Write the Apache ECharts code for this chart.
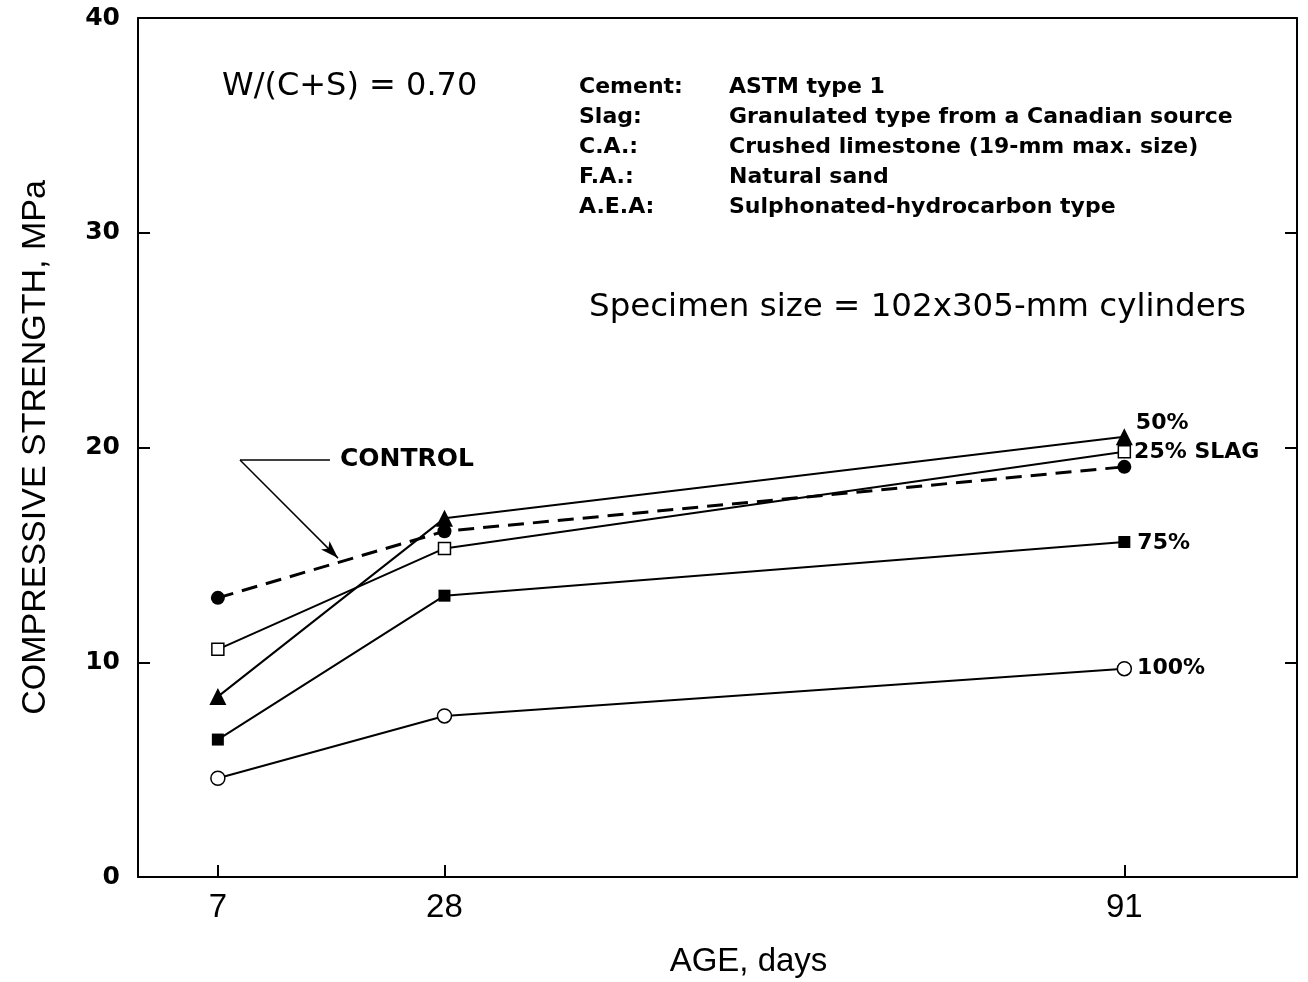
<!DOCTYPE html>
<html>
<head>
<meta charset="utf-8">
<title>Compressive strength vs age</title>
<script src="https://cdn.jsdelivr.net/npm/echarts@6.0.0/dist/echarts.min.js"></script>
<style>
  html, body { margin: 0; padding: 0; background: #fff; }
  #chart { width: 1308px; height: 982px; }
</style>
</head>
<body>
<div id="chart"></div>
<script>
// ages (days) and strengths (MPa)
var ages = [7, 28, 91]
var control = [13.0, 16.1, 19.1]
var slag25 = [10.6, 15.3, 19.8]
var slag50 = [8.4, 16.7, 20.5]
var slag75 = [6.4, 13.1, 15.6]
var slag100 = [4.6, 7.5, 9.7]
var endLabels = ['', '25% SLAG', '50%', '75%', '100%']
var yTicks = [0, 10, 20, 30, 40]

var infoKeys = ['Cement:', 'Slag:', 'C.A.:', 'F.A.:', 'A.E.A:']
var infoVals = ['ASTM type 1', 'Granulated type from a Canadian source',
  'Crushed limestone (19-mm max. size)', 'Natural sand', 'Sulphonated-hydrocarbon type']

function pairs(vals) {
  var out = []
  for (var i = 0; i < ages.length; i++) out.push([ages[i], vals[i]])
  return out
}

function withEndLabel(vals, text, offset) {
  var d = pairs(vals)
  var last = d.length - 1
  d[last] = {
    value: d[last],
    label: {
      show: true, position: 'right', distance: 3, offset: offset,
      formatter: text, color: '#000',
      fontFamily: 'DejaVu Sans', fontWeight: 'bold', fontSize: 22
    }
  }
  return d
}

var chart = echarts.init(document.getElementById('chart'))

var lineBase = { color: '#000', width: 2 }
var frame = { show: true, onZero: false, lineStyle: { color: '#000', width: 2 } }

var graphics = [{
  type: 'text', left: 222, top: 71,
  style: { text: 'W/(C+S) = 0.70', font: '32px "DejaVu Sans"', fill: '#000' }
}, {
  type: 'text', left: 589, top: 291,
  style: { text: 'Specimen size = 102x305-mm cylinders', font: '32.5px "DejaVu Sans"', fill: '#000' }
}]
for (var i = 0; i < infoKeys.length; i++) {
  graphics.push({
    type: 'text', left: 579, top: 76 + i * 30,
    style: { text: infoKeys[i], font: 'bold 22px "DejaVu Sans"', fill: '#000' }
  })
  graphics.push({
    type: 'text', left: 729, top: 76 + i * 30,
    style: { text: infoVals[i], font: 'bold 22px "DejaVu Sans"', fill: '#000' }
  })
}

var option = {
  backgroundColor: '#fff',
  animation: false,
  grid: { left: 138, right: 11, top: 18, bottom: 105, show: false, outerBoundsMode: 'none', containLabel: false },
  xAxis: [{
    type: 'value', min: -0.4, max: 107,
    name: 'AGE, days', nameLocation: 'middle', nameGap: 68,
    nameTextStyle: { fontFamily: 'Liberation Sans', fontSize: 33, color: '#000', padding: [0, 0, 0, 62] },
    axisLine: frame,
    axisTick: { inside: true, length: 12, customValues: ages, lineStyle: { color: '#000', width: 2 } },
    axisLabel: { customValues: ages, margin: 14, fontFamily: 'Liberation Sans', fontSize: 33, color: '#000' },
    splitLine: { show: false }
  }, {
    type: 'value', position: 'top', min: -0.4, max: 107,
    axisLine: frame,
    axisTick: { show: false }, axisLabel: { show: false }, splitLine: { show: false }
  }],
  yAxis: [{
    type: 'value', min: 0, max: 40, interval: 10,
    name: 'COMPRESSIVE STRENGTH, MPa', nameLocation: 'middle', nameGap: 85,
    nameTextStyle: { fontFamily: 'Liberation Sans', fontSize: 34, color: '#000' },
    axisLine: frame,
    axisTick: { inside: true, length: 12, lineStyle: { color: '#000', width: 2 } },
    axisLabel: { margin: 18, fontFamily: 'DejaVu Sans', fontWeight: 'bold', fontSize: 25, color: '#000',
      customValues: yTicks },
    splitLine: { show: false }
  }, {
    type: 'value', position: 'right', min: 0, max: 40, interval: 10,
    axisLine: frame,
    axisTick: { inside: true, length: 12, lineStyle: { color: '#000', width: 2 } },
    axisLabel: { show: false }, splitLine: { show: false }
  }],
  graphic: graphics,
  series: [{
    name: 'Control', type: 'line', data: pairs(control),
    symbol: 'circle', symbolSize: 14,
    itemStyle: { color: '#000' },
    lineStyle: { color: '#000', width: 3, type: [16, 9] },
    markLine: {
      silent: true, animation: false,
      lineStyle: { color: '#000', width: 1.5, type: 'solid' },
      data: [
        [{ coord: [9.05, 19.42], symbol: 'none' },
         { coord: [17.39, 19.42], symbol: 'none',
           label: { show: true, position: 'end', distance: 10, formatter: 'CONTROL', color: '#000',
             fontFamily: 'DejaVu Sans', fontWeight: 'bold', fontSize: 25 } }],
        [{ coord: [9.05, 19.42], symbol: 'none' },
         { coord: [18.13, 14.85], symbol: 'arrow', symbolSize: [9, 18], label: { show: false } }]
      ]
    }
  }, {
    name: '25%', type: 'line', data: withEndLabel(slag25, endLabels[1], [0, 0]),
    symbol: 'rect', symbolSize: 12,
    itemStyle: { color: '#fff', borderColor: '#000', borderWidth: 1.5 },
    lineStyle: lineBase
  }, {
    name: '50%', type: 'line', data: withEndLabel(slag50, endLabels[2], [0, -13]),
    symbol: 'triangle', symbolSize: 17,
    itemStyle: { color: '#000' },
    lineStyle: lineBase
  }, {
    name: '75%', type: 'line', data: withEndLabel(slag75, endLabels[3], [4, 1]),
    symbol: 'rect', symbolSize: 12,
    itemStyle: { color: '#000' },
    lineStyle: lineBase
  }, {
    name: '100%', type: 'line', data: withEndLabel(slag100, endLabels[4], [2, 0]),
    symbol: 'circle', symbolSize: 14,
    itemStyle: { color: '#fff', borderColor: '#000', borderWidth: 1.5 },
    lineStyle: lineBase
  }]
}

chart.setOption(option)
</script>
</body>
</html>
